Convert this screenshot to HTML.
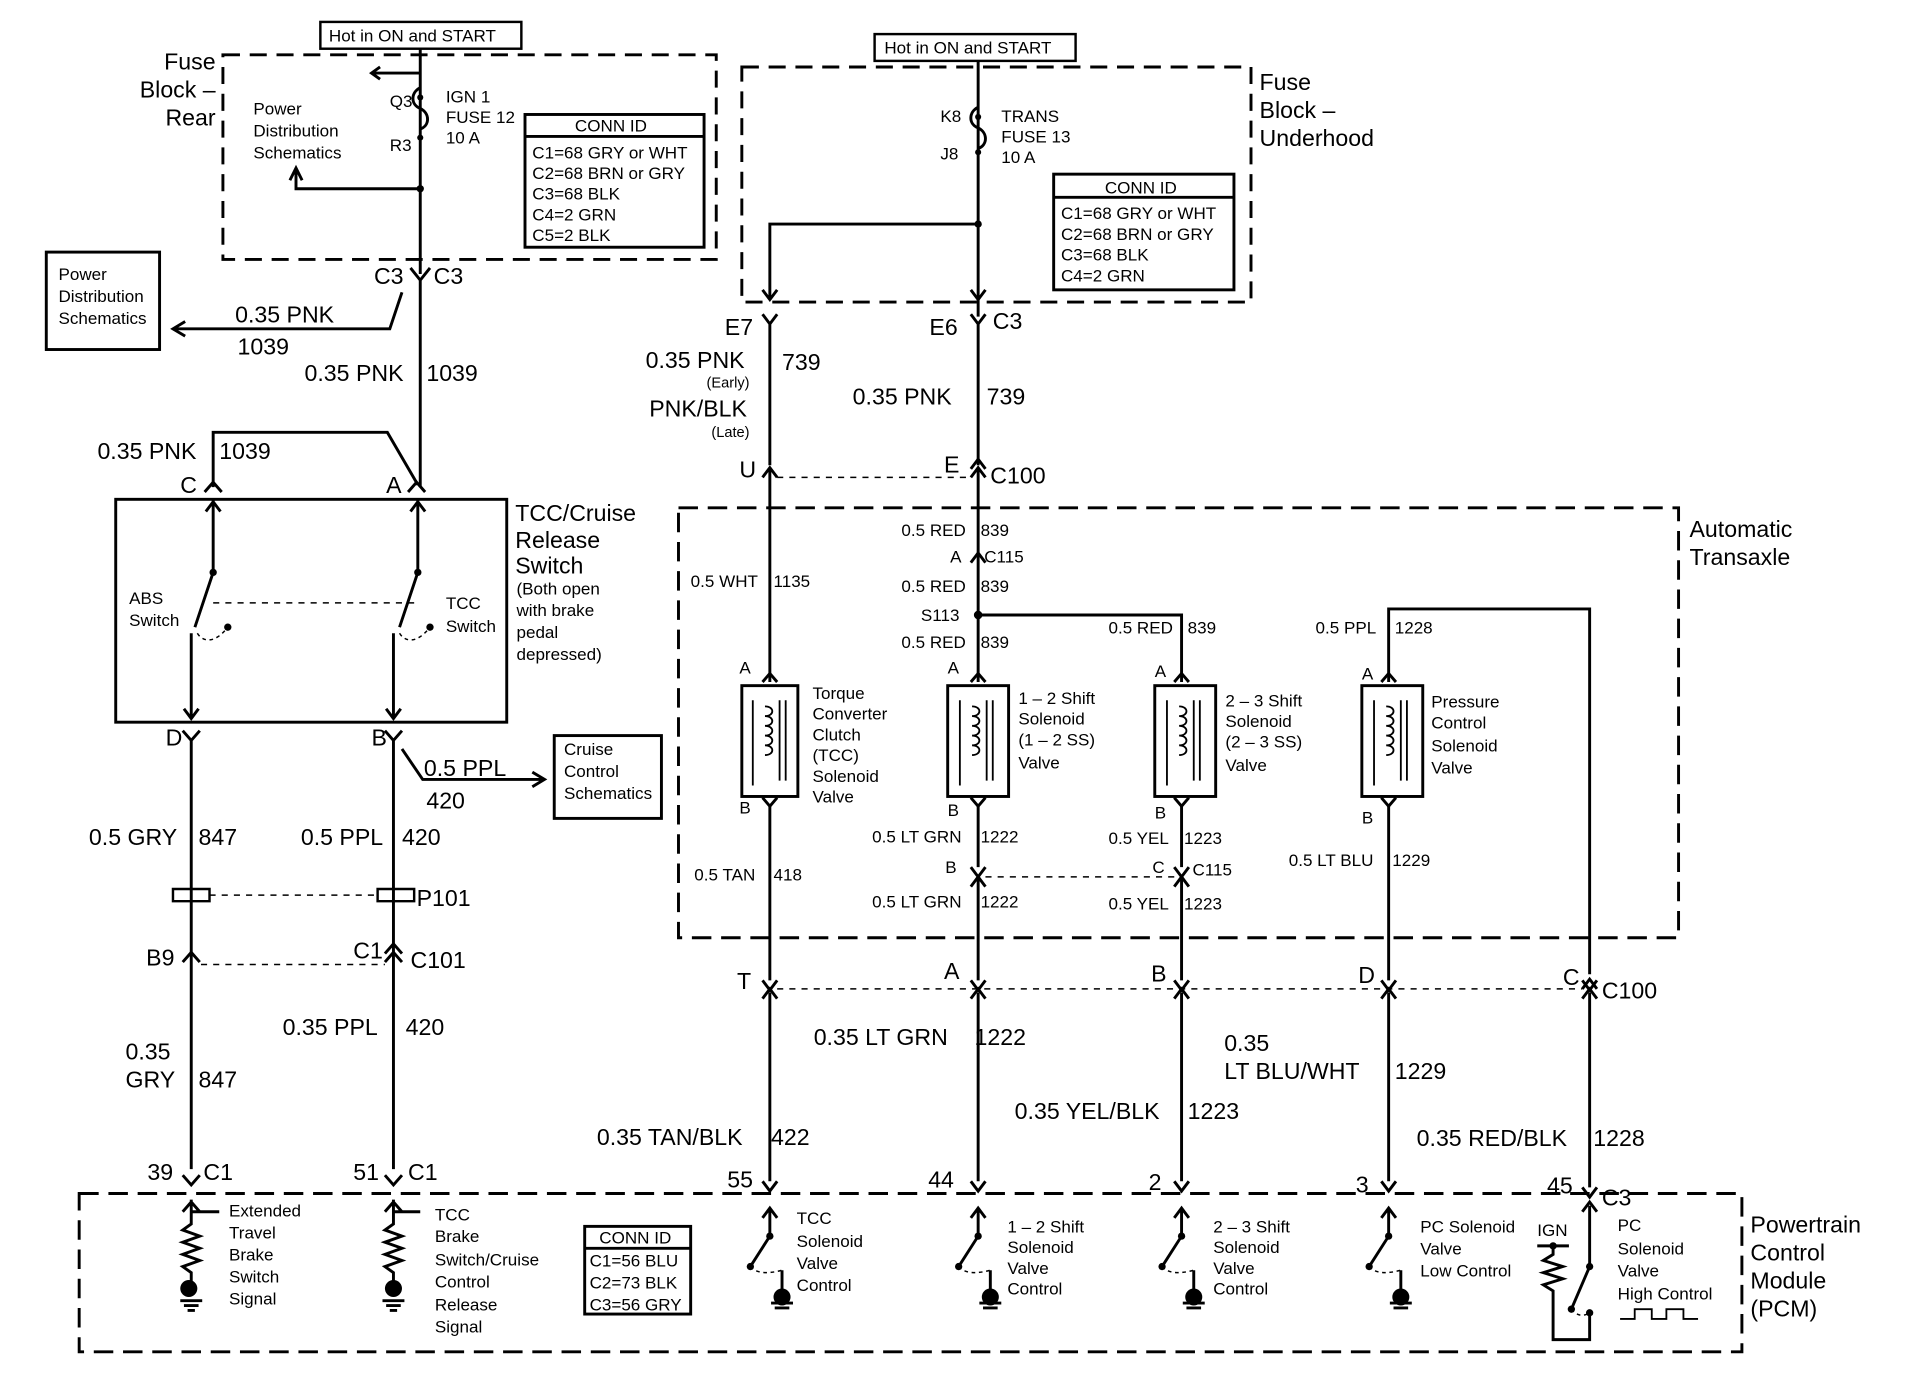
<!DOCTYPE html>
<html><head><meta charset="utf-8"><style>
html,body{margin:0;padding:0;background:#fff;}
svg{display:block;}
text{font-family:"Liberation Sans",sans-serif;fill:#000;}
</style></head><body>
<svg width="1910" height="1392" viewBox="0 0 1568 1143" preserveAspectRatio="none" xmlns="http://www.w3.org/2000/svg">
<g fill="none" stroke="#000" stroke-width="2.4">
<!-- dashed boxes -->
<path d="M183 45H588V213H183Z" stroke-dasharray="14 8"/>
<path d="M609 55H1027V248H609Z" stroke-dasharray="14 8"/>
<path d="M557 417H1378V770H557Z" stroke-dasharray="16 8"/>
<path d="M65 980H1430V1110H65Z" stroke-dasharray="16 8"/>
<!-- solid boxes -->
<rect x="263" y="18" width="165" height="22" stroke-width="2"/>
<rect x="718" y="28" width="165" height="22" stroke-width="2"/>
<rect x="431" y="94" width="147" height="109"/><path d="M431 112H578"/>
<rect x="865" y="143" width="148" height="95"/><path d="M865 162H1013"/>
<rect x="38" y="207" width="93" height="80"/>
<rect x="95" y="410" width="321" height="183"/>
<rect x="455" y="604" width="88" height="68"/>
<rect x="480" y="1007" width="87" height="72"/><path d="M480 1025H567"/>

<!-- left fuse -->
<path d="M345 40V225M345 60H305M312 55l-7 5 7 5"/>
<path d="M345 72c-8 4 -8 14 0 17c8 4 8 14 0 17" />
<path d="M345 155H243V140M238 148l5 -10 5 10"/>
<!-- C3 Y -->
<path d="M337 220l8 10 8-10M345 230V400"/>
<path d="M330 240L320 270H142M152 264l-10 6 10 6"/>
<path d="M175 400V355H318L343 398"/>
<path d="M168 404l7-8 7 8M335 404l7-8 7 8"/>
<!-- switch internals -->
<path d="M175 410V470M175 470L160 515M157 520V590M151 582l6 8 6-8M169 420l6-8 6 8"/>
<path d="M343 410V470M343 470L328 515M323 520V590M317 582l6 8 6-8M337 420l6-8 6 8"/>
<path d="M175 495H343" stroke-dasharray="5 5" stroke-width="1.2"/>
<path d="M162 520c5 8 15 8 25-5M328 520c5 8 15 8 25-5" stroke-dasharray="3 3" stroke-width="1.2"/>
<!-- lower left wires -->
<path d="M150 600l7 8 7-8M157 608V960M316 600l7 8 7-8M323 608V960"/>
<path d="M330 615L347 640H445M437 634l10 6-10 6"/>
<path d="M142 730h30v10h-30zM310 730h30v10h-30z" stroke-width="2"/>
<path d="M172 735H310" stroke-dasharray="5 5" stroke-width="1.2"/>
<path d="M150 790l7-8 7 8M316 790l7-8 7 8M316 783l7-8 7 8"/>
<path d="M165 792H316" stroke-dasharray="5 5" stroke-width="1.2"/>
<path d="M150 965l7 8 7-8M316 965l7 8 7-8"/>
<!-- right fuse -->
<path d="M803 50V260M803 88c-8 4 -8 14 0 17c8 4 8 14 0 17"/>
<path d="M803 184H632V245M626 238l6 8 6-8M797 238l6 8 6-8"/>
<path d="M626 258l6 8 6-8M797 258l6 8 6-8M632 266V382M803 266V382"/>
<path d="M626 392l6-8 6 8M797 392l6-8 6 8M632 385V560M803 385V560M797 385l6-8 6 8"/>
<path d="M638 392H797" stroke-dasharray="5 5" stroke-width="1.2"/>
<path d="M797 462l6-8 6 8M803 505H970V560M1140 560V500H1305V800"/>
<!-- solenoids -->
<rect x="609" y="563" width="46" height="91"/>
<rect x="778" y="563" width="50" height="91"/>
<rect x="948" y="563" width="50" height="91"/>
<rect x="1118" y="563" width="50" height="91"/>
<g stroke-width="1.5">
<path d="M618 575V645M628 580c8 0 8 8 0 8c8 0 8 8 0 8c8 0 8 8 0 8c8 0 8 8 0 8c8 0 8 8 0 8M640 575v66M645 575v66"/>
<path d="M788 575V645M798 580c8 0 8 8 0 8c8 0 8 8 0 8c8 0 8 8 0 8c8 0 8 8 0 8c8 0 8 8 0 8M810 575v66M815 575v66"/>
<path d="M958 575V645M968 580c8 0 8 8 0 8c8 0 8 8 0 8c8 0 8 8 0 8c8 0 8 8 0 8c8 0 8 8 0 8M980 575v66M985 575v66"/>
<path d="M1128 575V645M1138 580c8 0 8 8 0 8c8 0 8 8 0 8c8 0 8 8 0 8c8 0 8 8 0 8c8 0 8 8 0 8M1150 575v66M1155 575v66"/>
</g>
<path d="M626 560l6-7 6 7M797 560l6-7 6 7M964 560l6-7 6 7M1134 560l6-7 6 7"/>
<path d="M626 655l6 7 6-7M797 655l6 7 6-7M964 655l6 7 6-7M1134 655l6 7 6-7"/>
<path d="M632 662V805M803 662V712M970 662V712M1140 662V805"/>
<path d="M797 712l6 8 6-8M964 712l6 8 6-8M797 728l6-8 6 8M964 728l6-8 6 8M803 722V805M970 722V805"/>
<path d="M809 720H964" stroke-dasharray="5 5" stroke-width="1.2"/>
<path d="M626 805l6 8 6-8M797 805l6 8 6-8M964 805l6 8 6-8M1134 805l6 8 6-8M1299 805l6 8 6-8"/>
<path d="M626 820l6-8 6 8M797 820l6-8 6 8M964 820l6-8 6 8M1134 820l6-8 6 8M1299 820l6-8 6 8M1299 812l6-8 6 8"/>
<path d="M638 812H1299" stroke-dasharray="5 5" stroke-width="1.2"/>
<path d="M632 815V970M803 815V970M970 815V970M1140 815V970M1305 815V975"/>
<path d="M626 970l6 8 6-8M797 970l6 8 6-8M964 970l6 8 6-8M1134 970l6 8 6-8M1299 975l6 8 6-8"/>
<!-- PCM internals: resistors -->
<path d="M157 985V1005l-7 5 14 5-14 5 14 5-14 5 14 5-14 5 7 5V1060M150 995l7-8 7 8M157 995H180"/>
<path d="M323 985V1005l-7 5 14 5-14 5 14 5-14 5 14 5-14 5 7 5V1060M316 995l7-8 7 8M323 995H345"/>
<path d="M148 1068h18M151 1072h12M154 1076h6M314 1068h18M317 1072h12M320 1076h6"/>
<!-- switches -->
<path d="M626 1000l6-8 6 8M632 992V1015L616 1040M797 1000l6-8 6 8M803 992V1015L787 1040M964 1000l6-8 6 8M970 992V1015L954 1040M1134 1000l6-8 6 8M1140 992V1015L1124 1040"/>
<path d="M642 1043V1065M813 1043V1065M980 1043V1065M1150 1043V1065"/>
<path d="M633 1070h18M636 1074h12M804 1070h18M807 1074h12M971 1070h18M974 1074h12M1141 1070h18M1144 1074h12"/>
<path d="M616 1040c5 6 15 6 26 3M787 1040c5 6 15 6 26 3M954 1040c5 6 15 6 26 3M1124 1040c5 6 15 6 26 3" stroke-dasharray="3 3" stroke-width="1.2"/>
<!-- PC high -->
<path d="M1299 995l6-8 6 8M1305 990V1040L1290 1075M1262 1023H1288M1275 1023V1030l-8 5 16 5-16 5 16 5-16 5 8 5V1100H1305V1078"/>
<path d="M1290 1075c5 6 10 6 15 3" stroke-dasharray="3 3" stroke-width="1.2"/>
<path d="M1330 1083h12v-8h14v8h12v-8h14v8h12" stroke-width="1.5"/>
</g>
<g fill="#000">
<circle cx="345" cy="155" r="3"/><circle cx="803" cy="184" r="3"/><circle cx="803" cy="505" r="3.5"/>
<circle cx="175" cy="470" r="3"/><circle cx="343" cy="470" r="3"/><circle cx="187" cy="515" r="3"/><circle cx="353" cy="515" r="3"/>
<circle cx="155" cy="1058" r="7"/><circle cx="323" cy="1058" r="7"/>
<circle cx="642" cy="1065" r="7"/><circle cx="813" cy="1065" r="7"/><circle cx="980" cy="1065" r="7"/><circle cx="1150" cy="1065" r="7"/>
<circle cx="632" cy="1015" r="3"/><circle cx="803" cy="1015" r="3"/><circle cx="970" cy="1015" r="3"/><circle cx="1140" cy="1015" r="3"/>
<circle cx="616" cy="1040" r="3"/><circle cx="787" cy="1040" r="3"/><circle cx="954" cy="1040" r="3"/><circle cx="1124" cy="1040" r="3"/>
<circle cx="1305" cy="1040" r="3"/><circle cx="1290" cy="1075" r="3"/><circle cx="1305" cy="1078" r="3"/><circle cx="1275" cy="1023" r="3"/>
<circle cx="345" cy="80" r="2.5"/><circle cx="345" cy="113" r="2.5"/><circle cx="803" cy="96" r="2.5"/><circle cx="803" cy="125" r="2.5"/>
</g>
<g font-size="14">
<text x="270" y="34">Hot in ON and START</text>
<text x="726" y="44">Hot in ON and START</text>
<text x="208" y="94">Power</text><text x="208" y="112">Distribution</text><text x="208" y="130">Schematics</text>
<text x="320" y="88">Q3</text><text x="320" y="124">R3</text>
<text x="366" y="84">IGN 1</text><text x="366" y="101">FUSE 12</text><text x="366" y="118">10 A</text>
<text x="472" y="108">CONN ID</text>
<text x="437" y="130">C1=68 GRY or WHT</text><text x="437" y="147">C2=68 BRN or GRY</text><text x="437" y="164">C3=68 BLK</text><text x="437" y="181">C4=2 GRN</text><text x="437" y="198">C5=2 BLK</text>
<text x="48" y="230">Power</text><text x="48" y="248">Distribution</text><text x="48" y="266">Schematics</text>
<text x="772" y="100">K8</text><text x="772" y="131">J8</text>
<text x="822" y="100">TRANS</text><text x="822" y="117">FUSE 13</text><text x="822" y="134">10 A</text>
<text x="907" y="159">CONN ID</text>
<text x="871" y="180">C1=68 GRY or WHT</text><text x="871" y="197">C2=68 BRN or GRY</text><text x="871" y="214">C3=68 BLK</text><text x="871" y="231">C4=2 GRN</text>
<text x="106" y="496">ABS</text><text x="106" y="514">Switch</text>
<text x="366" y="500">TCC</text><text x="366" y="519">Switch</text>
<text x="424" y="488">(Both open</text><text x="424" y="506">with brake</text><text x="424" y="524">pedal</text><text x="424" y="542">depressed)</text>
<text x="463" y="620">Cruise</text><text x="463" y="638">Control</text><text x="463" y="656">Schematics</text>
<text x="740" y="440">0.5 RED</text><text x="805" y="440">839</text>
<text x="808" y="462">C115</text>
<text x="740" y="486">0.5 RED</text><text x="805" y="486">839</text>
<text x="756" y="510">S113</text>
<text x="740" y="532">0.5 RED</text><text x="805" y="532">839</text>
<text x="910" y="520">0.5 RED</text><text x="975" y="520">839</text>
<text x="1080" y="520">0.5 PPL</text><text x="1145" y="520">1228</text>
<text x="567" y="482">0.5 WHT</text><text x="635" y="482">1135</text>
<text x="667" y="574">Torque</text><text x="667" y="591">Converter</text><text x="667" y="608">Clutch</text><text x="667" y="625">(TCC)</text><text x="667" y="642">Solenoid</text><text x="667" y="659">Valve</text>
<text x="836" y="578">1 – 2 Shift</text><text x="836" y="595">Solenoid</text><text x="836" y="612">(1 – 2 SS)</text><text x="836" y="631">Valve</text>
<text x="1006" y="580">2 – 3 Shift</text><text x="1006" y="597">Solenoid</text><text x="1006" y="614">(2 – 3 SS)</text><text x="1006" y="633">Valve</text>
<text x="1175" y="581">Pressure</text><text x="1175" y="598">Control</text><text x="1175" y="617">Solenoid</text><text x="1175" y="635">Valve</text>
<text x="607" y="553">A</text><text x="778" y="553">A</text><text x="948" y="556">A</text><text x="1118" y="558">A</text>
<text x="607" y="668">B</text><text x="778" y="670">B</text><text x="948" y="672">B</text><text x="1118" y="676">B</text>
<text x="780" y="462">A</text>
<text x="716" y="692">0.5 LT GRN</text><text x="805" y="692">1222</text>
<text x="910" y="693">0.5 YEL</text><text x="972" y="693">1223</text>
<text x="1058" y="711">0.5 LT BLU</text><text x="1143" y="711">1229</text>
<text x="570" y="723">0.5 TAN</text><text x="635" y="723">418</text>
<text x="776" y="717">B</text><text x="946" y="717">C</text><text x="979" y="719">C115</text>
<text x="716" y="745">0.5 LT GRN</text><text x="805" y="745">1222</text>
<text x="910" y="747">0.5 YEL</text><text x="972" y="747">1223</text>
<text x="188" y="999">Extended</text><text x="188" y="1017">Travel</text><text x="188" y="1035">Brake</text><text x="188" y="1053">Switch</text><text x="188" y="1071">Signal</text>
<text x="357" y="1002">TCC</text><text x="357" y="1020">Brake</text><text x="357" y="1039">Switch/Cruise</text><text x="357" y="1057">Control</text><text x="357" y="1076">Release</text><text x="357" y="1094">Signal</text>
<text x="492" y="1021">CONN ID</text><text x="484" y="1040">C1=56 BLU</text><text x="484" y="1058">C2=73 BLK</text><text x="484" y="1076">C3=56 GRY</text>
<text x="654" y="1005">TCC</text><text x="654" y="1024">Solenoid</text><text x="654" y="1042">Valve</text><text x="654" y="1060">Control</text>
<text x="827" y="1012">1 – 2 Shift</text><text x="827" y="1029">Solenoid</text><text x="827" y="1046">Valve</text><text x="827" y="1063">Control</text>
<text x="996" y="1012">2 – 3 Shift</text><text x="996" y="1029">Solenoid</text><text x="996" y="1046">Valve</text><text x="996" y="1063">Control</text>
<text x="1166" y="1012">PC Solenoid</text><text x="1166" y="1030">Valve</text><text x="1166" y="1048">Low Control</text>
<text x="1262" y="1015">IGN</text>
<text x="1328" y="1011">PC</text><text x="1328" y="1030">Solenoid</text><text x="1328" y="1048">Valve</text><text x="1328" y="1067">High Control</text>
<text x="580" y="318" font-size="12">(Early)</text><text x="584" y="359" font-size="12">(Late)</text>
</g>
<g font-size="19">
<text x="177" y="57" text-anchor="end">Fuse</text><text x="177" y="80" text-anchor="end">Block –</text><text x="177" y="103" text-anchor="end">Rear</text>
<text x="1034" y="74">Fuse</text><text x="1034" y="97">Block –</text><text x="1034" y="120">Underhood</text>
<text x="307" y="233">C3</text><text x="356" y="233">C3</text>
<text x="193" y="265">0.35 PNK</text><text x="195" y="291">1039</text>
<text x="250" y="313">0.35 PNK</text><text x="350" y="313">1039</text>
<text x="80" y="377">0.35 PNK</text><text x="180" y="377">1039</text>
<text x="148" y="405">C</text><text x="317" y="405">A</text>
<text x="423" y="428">TCC/Cruise</text><text x="423" y="450">Release</text><text x="423" y="471">Switch</text>
<text x="136" y="612">D</text><text x="305" y="612">B</text>
<text x="348" y="637">0.5 PPL</text><text x="350" y="664">420</text>
<text x="73" y="694">0.5 GRY</text><text x="163" y="694">847</text>
<text x="247" y="694">0.5 PPL</text><text x="330" y="694">420</text>
<text x="342" y="744">P101</text>
<text x="120" y="793">B9</text><text x="290" y="787">C1</text><text x="337" y="795">C101</text>
<text x="103" y="870">0.35</text><text x="103" y="893">GRY</text><text x="163" y="893">847</text>
<text x="232" y="850">0.35 PPL</text><text x="333" y="850">420</text>
<text x="121" y="969">39</text><text x="167" y="969">C1</text><text x="290" y="969">51</text><text x="335" y="969">C1</text>
<text x="595" y="275">E7</text><text x="763" y="275">E6</text><text x="815" y="270">C3</text>
<text x="530" y="302">0.35 PNK</text><text x="642" y="304">739</text>
<text x="533" y="342">PNK/BLK</text>
<text x="700" y="332">0.35 PNK</text><text x="810" y="332">739</text>
<text x="607" y="392">U</text><text x="775" y="388">E</text><text x="813" y="397">C100</text>
<text x="1387" y="441">Automatic</text><text x="1387" y="464">Transaxle</text>
<text x="605" y="812">T</text><text x="775" y="804">A</text><text x="945" y="806">B</text><text x="1115" y="807">D</text><text x="1283" y="809">C</text><text x="1315" y="820">C100</text>
<text x="668" y="858">0.35 LT GRN</text><text x="800" y="858">1222</text>
<text x="1005" y="863">0.35</text><text x="1005" y="886">LT BLU/WHT</text><text x="1145" y="886">1229</text>
<text x="833" y="919">0.35 YEL/BLK</text><text x="975" y="919">1223</text>
<text x="490" y="940">0.35 TAN/BLK</text><text x="633" y="940">422</text>
<text x="1163" y="941">0.35 RED/BLK</text><text x="1308" y="941">1228</text>
<text x="597" y="975">55</text><text x="762" y="975">44</text><text x="943" y="977">2</text><text x="1113" y="979">3</text><text x="1270" y="980">45</text><text x="1315" y="990">C3</text>
<text x="1437" y="1012">Powertrain</text><text x="1437" y="1035">Control</text><text x="1437" y="1058">Module</text><text x="1437" y="1081">(PCM)</text>
</g>
</svg>
</body></html>
